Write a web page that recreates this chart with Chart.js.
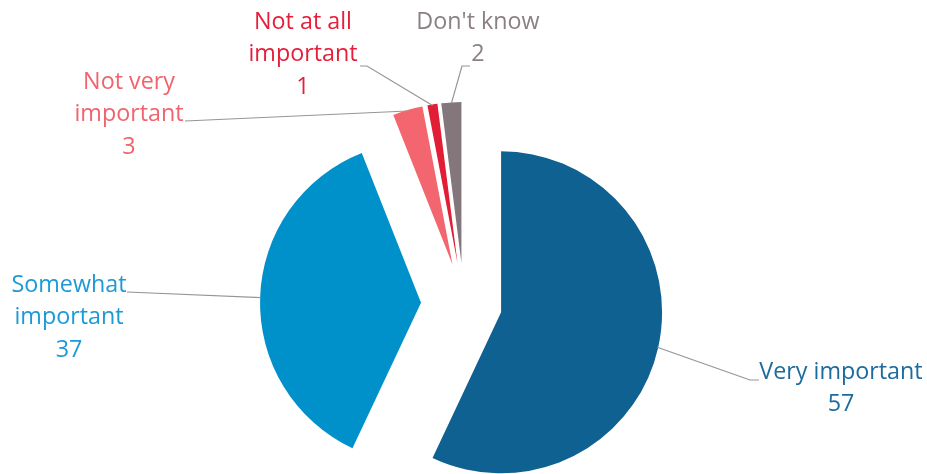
<!DOCTYPE html>
<html><head><meta charset="utf-8">
<script src="https://cdn.jsdelivr.net/npm/chart.js@4"></script>
<style>html,body{margin:0;padding:0;background:#fff}#wrap{width:927px;height:474px;position:relative}</style>
</head><body><div id="wrap"><canvas id="c" width="927" height="474"></canvas></div>
<script>
// ---- data ----
const categories = ['Very important', 'Somewhat important', 'Not very important', 'Not at all important', "Don't know"];
const values = [57, 37, 3, 1, 2];
const labelLines = [['Very important'], ['Somewhat', 'important'], ['Not very', 'important'], ['Not at all', 'important'], ["Don't know"]];

// ---- styles ----
const sliceColors = ['#0E6191', '#0091CA', '#F3666F', '#E21D36', '#84777B'];
const textColors = ['#1B6C9C', '#1C9AD6', '#F0646D', '#E61E3A', '#8B8185'];
const explode = [38, 43, 41, 41, 41];          // pull-out distance of each slice, px
const PIE_RADIUS = 161;
const FONT = '23.3px "Open Sans"';
const LINE_H = 32.5;
// label layout: text centre x, first line centre y, leader path points after the slice edge
const labelLayout = [
  {x: 841, y: 372, path: [[750, 380], [759, 380]]},
  {x: 69, y: 285, path: [[127, 292]]},
  {x: 129, y: 82, path: [[185, 121]]},
  {x: 303, y: 22, path: [[367, 66], [360, 66]]},
  {x: 478, y: 22, path: [[462, 66], [470, 66]]}
];

// Exploded pie: move each arc out along its mid-angle, keeping full radius and angle.
const explodePlugin = {
  id: 'explode',
  beforeDatasetsDraw(chart) {
    const a = chart.chartArea;
    const cx = (a.left + a.right) / 2, cy = (a.top + a.bottom) / 2;
    chart.getDatasetMeta(0).data.forEach((arc, i) => {
      const mid = (arc.startAngle + arc.endAngle) / 2;
      arc.x = cx + Math.cos(mid) * explode[i];
      arc.y = cy + Math.sin(mid) * explode[i];
    });
  }
};

const labelPlugin = {
  id: 'pieLabels',
  afterDatasetsDraw(chart) {
    const ctx = chart.ctx;
    const meta = chart.getDatasetMeta(0);
    ctx.save();
    meta.data.forEach((arc, i) => {
      const mid = (arc.startAngle + arc.endAngle) / 2;
      const ex = arc.x + Math.cos(mid) * (arc.outerRadius - 1);
      const ey = arc.y + Math.sin(mid) * (arc.outerRadius - 1);
      const L = labelLayout[i];
      ctx.beginPath();
      ctx.moveTo(ex, ey);
      L.path.forEach(pt => ctx.lineTo(pt[0], pt[1]));
      ctx.strokeStyle = '#959595';
      ctx.lineWidth = 1.2;
      ctx.stroke();
      ctx.font = FONT;
      ctx.fillStyle = textColors[i];
      ctx.textAlign = 'center';
      ctx.textBaseline = 'middle';
      const lines = labelLines[i].concat([String(values[i])]);
      lines.forEach((s, k) => ctx.fillText(s, L.x, L.y + k * LINE_H));
    });
    ctx.restore();
  }
};

new Chart(document.getElementById('c'), {
  type: 'pie',
  data: {
    labels: categories,
    datasets: [{
      data: values,
      backgroundColor: sliceColors,
      borderWidth: 0,
      radius: PIE_RADIUS,
      clip: false
    }]
  },
  options: {
    responsive: false,
    animation: false,
    layout: {padding: {left: 1, right: 0, top: 134, bottom: 0}},
    plugins: {legend: {display: false}, tooltip: {enabled: false}}
  },
  plugins: [explodePlugin, labelPlugin]
});
</script>
</body></html>
